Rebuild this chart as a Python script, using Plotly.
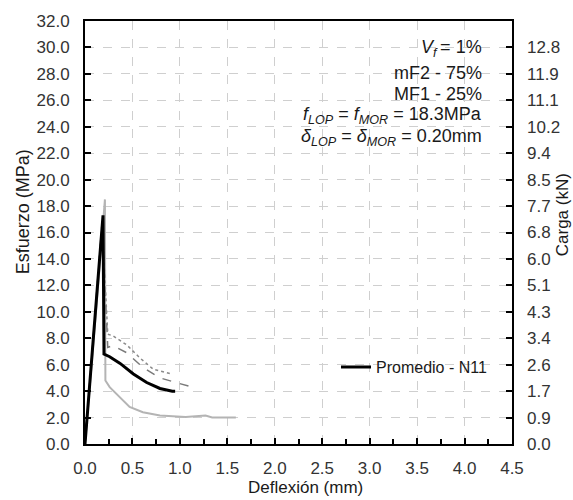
import plotly.graph_objects as go

# Deflection (mm) vs. stress (MPa)
prom_x = [0.0, 0.05, 0.10, 0.15, 0.19, 0.20, 0.26, 0.37, 0.51, 0.65, 0.79, 0.92, 0.95]
prom_y = [0.0, 4.5, 9.0, 13.5, 17.3, 6.8, 6.6, 6.1, 5.3, 4.65, 4.2, 4.0, 4.0]

esp1_x = [0.0, 0.05, 0.10, 0.15, 0.21, 0.215, 0.26, 0.37, 0.47, 0.61, 0.79, 1.06, 1.27, 1.34, 1.45, 1.59]
esp1_y = [0.0, 4.2, 8.5, 13.0, 18.5, 4.8, 4.3, 3.5, 2.8, 2.4, 2.15, 2.05, 2.15, 2.0, 2.0, 2.0]

esp2_x = [0.0, 0.05, 0.10, 0.15, 0.18, 0.24, 0.29, 0.44, 0.58, 0.72, 0.91]
esp2_y = [0.0, 4.6, 9.2, 13.8, 16.6, 8.3, 8.2, 7.5, 6.5, 5.65, 5.3]

esp3_x = [0.0, 0.05, 0.10, 0.15, 0.18, 0.24, 0.29, 0.44, 0.61, 0.79, 0.96, 1.13, 1.15]
esp3_y = [0.0, 4.5, 9.0, 13.5, 16.8, 7.3, 7.45, 6.9, 5.8, 5.0, 4.65, 4.3, 4.2]

esf_ticks = [0, 2, 4, 6, 8, 10, 12, 14, 16, 18, 20, 22, 24, 26, 28, 30, 32]
esf_labels = ["%.1f" % v for v in esf_ticks]
carga_ticks = [0, 2, 4, 6, 8, 10, 12, 14, 16, 18, 20, 22, 24, 26, 28, 30]
carga_labels = ["0.0", "0.9", "1.7", "2.6", "3.4", "4.3", "5.1", "6.0", "6.8",
                "7.7", "8.5", "9.4", "10.2", "11.1", "11.9", "12.8"]
defl_ticks = [0, 0.5, 1.0, 1.5, 2.0, 2.5, 3.0, 3.5, 4.0, 4.5]
defl_labels = ["%.1f" % v for v in defl_ticks]

FONT = "Liberation Sans, Arial, sans-serif"
TXT = "#1a1a1a"

# plot area in pixels
L, R, T, B = 85, 512, 15, 444
W, H = 573, 500
pw, ph = R - L, B - T

fig = go.Figure()
fig.add_trace(go.Scatter(x=esp1_x, y=esp1_y, mode="lines", showlegend=False,
                         line=dict(color="#b4b4b4", width=2)))
fig.add_trace(go.Scatter(x=esp3_x, y=esp3_y, mode="lines", showlegend=False,
                         line=dict(color="#7a7a7a", width=1.5, dash="dash")))
fig.add_trace(go.Scatter(x=esp2_x, y=esp2_y, mode="lines", showlegend=False,
                         line=dict(color="#8a8a8a", width=1.5, dash="dot")))
fig.add_trace(go.Scatter(x=prom_x, y=prom_y, mode="lines", name="Promedio - N11",
                         line=dict(color="#000000", width=3)))
# invisible trace carrying the secondary (load) axis
fig.add_trace(go.Scatter(x=[0, 4.5], y=[0, 32], yaxis="y2", mode="lines",
                         line=dict(width=0), showlegend=False, hoverinfo="skip"))

grid = dict(showgrid=True, gridcolor="#cfcfcf", griddash="dash", gridwidth=1)

fig.update_layout(
    width=W, height=H,
    margin=dict(l=L, r=W - R, t=T, b=H - B),
    paper_bgcolor="white", plot_bgcolor="white",
    font=dict(family=FONT, size=17, color="#333333"),
    xaxis=dict(range=[0, 4.5], tickvals=defl_ticks, ticktext=defl_labels,
               ticks="inside", ticklen=6, tickwidth=1.5, tickcolor="black",
               ticklabelstandoff=8,
               minor=dict(dtick=0.25, tick0=0, ticks="inside", ticklen=5,
                          tickcolor="black", showgrid=False),
               showline=True, linecolor="black", linewidth=2, mirror=True,
               zeroline=False, **grid),
    yaxis=dict(range=[0, 32], tickvals=esf_ticks, ticktext=esf_labels,
               ticks="inside", ticklen=6, tickwidth=1.5, tickcolor="black",
               ticklabelstandoff=10,
               showline=True, linecolor="black", linewidth=2, mirror=True,
               zeroline=False, **grid),
    yaxis2=dict(range=[0, 32], overlaying="y", side="right",
                tickvals=carga_ticks, ticktext=carga_labels,
                ticks="inside", ticklen=6, tickwidth=1.5, tickcolor="black",
                ticklabelstandoff=14,
                showgrid=False, zeroline=False, showline=False),
    legend=dict(x=(336 - L) / pw, y=(B - 366) / ph, xanchor="left", yanchor="middle",
                bgcolor="rgba(0,0,0,0)", font=dict(size=16, color=TXT)),
)

# axis titles
fig.add_annotation(text="Deflexión (mm)", xref="paper", yref="paper",
                   x=(305 - L) / pw, y=(B - 488) / ph, xanchor="center", yanchor="middle",
                   showarrow=False, font=dict(size=17, color=TXT))
fig.add_annotation(text="Esfuerzo (MPa)", xref="paper", yref="paper",
                   x=(23 - L) / pw, y=(B - 209) / ph, xanchor="center", yanchor="middle",
                   textangle=-90, showarrow=False, font=dict(size=18, color=TXT))
fig.add_annotation(text="Carga (kN)", xref="paper", yref="paper",
                   x=(562 - L) / pw, y=(B - 212) / ph, xanchor="center", yanchor="middle",
                   textangle=-90, showarrow=False, font=dict(size=17, color=TXT))

notes = [
    ("<i>V<sub>f</sub></i>\u2009= 1%", 43),
    ("mF2 - 75%", 68),
    ("MF1 - 25%", 89),
    ("<i>f<sub>LOP</sub></i> = <i>f<sub>MOR</sub></i> = 18.3MPa", 111),
    ("<i>δ<sub>LOP</sub></i> = <i>δ<sub>MOR</sub></i> = 0.20mm", 133),
]
for txt, py in notes:
    fig.add_annotation(text=txt, xref="paper", yref="paper",
                       x=(484 - L) / pw, y=(B - py) / ph,
                       xanchor="right", yanchor="middle", showarrow=False,
                       font=dict(size=18, color=TXT, family=FONT))

fig.write_html("out.html")
